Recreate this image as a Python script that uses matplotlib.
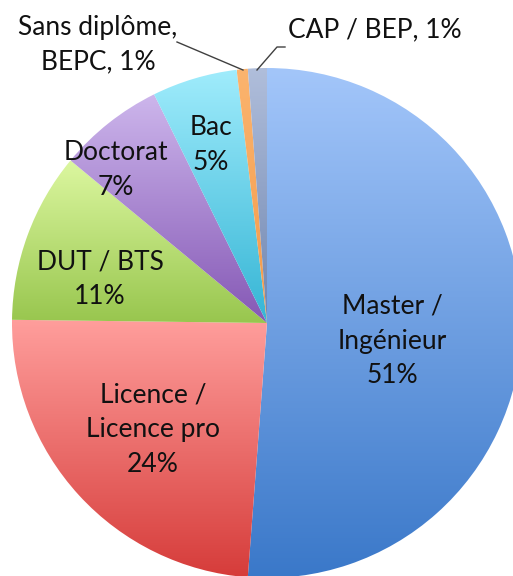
import numpy as np
import matplotlib
matplotlib.use("Agg")
import matplotlib.pyplot as plt
from matplotlib.colors import LinearSegmentedColormap

# parts of the pie, clockwise from 12 o'clock
labels = ["Master /\nIngénieur\n51%", "Licence /\nLicence pro\n24%", "DUT / BTS\n11%",
          "Doctorat\n7%", "Bac\n5%", "Sans diplôme,\nBEPC, 1%", "CAP / BEP, 1%"]
values = [51.2, 24.0, 10.8, 6.7, 5.4, 0.7, 1.2]

# gradient colours (top, bottom) for each slice
tops = ["#a3c6fa", "#ff9e9c", "#dcf7a0", "#cdb6ec", "#a0ecfc", "#fbb46e", "#b0bedb"]
bottoms = ["#3a78c9", "#d63c3a", "#98c64e", "#8558b5", "#35b5d5", "#f39a4a", "#6f86b0"]

W, H = 513, 576
fig = plt.figure(figsize=(W / 100, H / 100), dpi=100)
ax = fig.add_axes([0, 0, 1, 1])

cx, cy, r = 267, H - 323, 255
wedges, _ = ax.pie(values, startangle=90, counterclock=False, center=(cx, cy),
                   radius=r, colors=tops, wedgeprops=dict(linewidth=0))

# fake the Excel gradient fill: one vertical gradient per slice, clipped to it
grad = np.linspace(1, 0, 256).reshape(-1, 1)
for w, c_top, c_bot in zip(wedges, tops, bottoms):
    ext = w.get_path().get_extents()
    cmap = LinearSegmentedColormap.from_list("g", [c_bot, c_top])
    im = ax.imshow(grad, cmap=cmap, aspect="auto", origin="upper",
                   extent=(ext.x0, ext.x1, ext.y0, ext.y1), zorder=1)
    im.set_clip_path(w)
    w.set_facecolor("none")

font = dict(family=["Lato", "DejaVu Sans"], fontsize=19, color="#111111",
            ha="center", va="center", linespacing=1.48)

# label positions in pixels (x, y from top)
label_pos = [(392, 341), (153, 430), (100, 279), (116, 170), (211, 145), (98, 45), (375, 30)]
for txt, (x, y) in zip(labels, label_pos):
    ax.text(x, H - y, txt, zorder=3, **font)

# leader lines for the two small slices
ax.plot([177, 243], [H - 42, H - 70], color="#404040", lw=1, zorder=2)
ax.plot([285, 277, 257], [H - 47, H - 47, H - 70], color="#404040", lw=1, zorder=2)

ax.set_xlim(0, W)
ax.set_ylim(0, H)
ax.set_aspect("equal")
ax.axis("off")

fig.savefig("out.png", dpi=100)
